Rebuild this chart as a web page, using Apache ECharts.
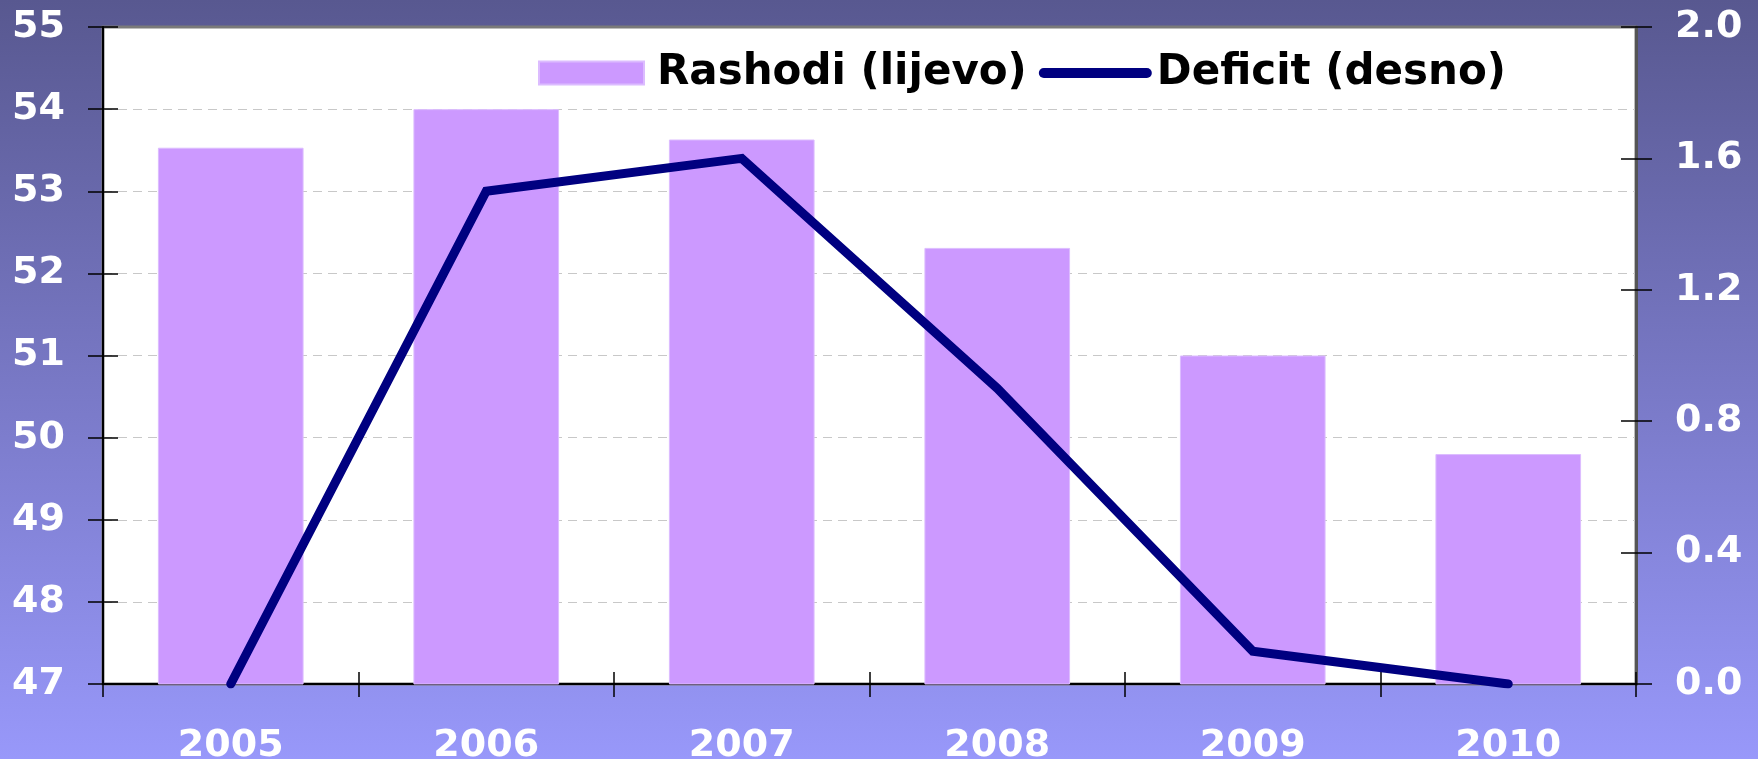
<!DOCTYPE html>
<html>
<head>
<meta charset="utf-8">
<title>Rashodi i deficit</title>
<script src="https://cdn.jsdelivr.net/npm/echarts@6.0.0/dist/echarts.min.js"></script>
<style>
  html, body { margin: 0; padding: 0; }
  #chart { width: 1758px; height: 759px; }
</style>
</head>
<body>
<div id="chart"></div>
<script>
// kategorije (godine)
const years = ['2005', '2006', '2007', '2008', '2009', '2010']
// Rashodi, lijeva os
const rashodi = [53.53, 54.0, 53.63, 52.31, 51.0, 49.8]
// Deficit, desna os
const deficit = [0, 1.5, 1.6, 0.9, 0.1, 0]

const leftMin = 47, leftMax = 55, leftStep = 1
const rightMin = 0, rightMax = 2.0, rightStep = 0.4

const labelFont = 'DejaVu Sans'

// ikone legende (prazni M drže veličinu kutije)
const rectIcon = 'path://M0,0 M113,23 M0,0 L105,0 L105,23 L0,23 Z'
const lineIcon = 'path://M0,0 M113,23 M5,6.5 L108,6.5 A5,5 0 0 1 108,16.5 L5,16.5 A5,5 0 0 1 5,6.5 Z'

const chart = echarts.init(document.getElementById('chart'))

const option = {
  animation: false,
  backgroundColor: {
    type: 'linear', x: 0, y: 0, x2: 0, y2: 1,
    colorStops: [
      { offset: 0, color: '#585890' },
      { offset: 1, color: '#9898fa' }
    ]
  },
  grid: {
    left: 103,
    right: 122,
    top: 27,
    bottom: 75,
    outerBoundsMode: 'none',
    show: true,
    backgroundColor: '#ffffff',
    borderColor: '#7a7a7a',
    borderWidth: 3
  },
  legend: {
    left: 533,
    top: 47,
    itemWidth: 113,
    itemHeight: 23,
    itemGap: 12,
    textStyle: {
      color: '#000',
      fontFamily: labelFont,
      fontWeight: 'bold',
      fontSize: 42,
      lineHeight: 42
    },
    data: [
      { name: 'Rashodi (lijevo)', icon: rectIcon },
      { name: 'Deficit (desno)', icon: lineIcon, itemStyle: { color: '#000080', borderWidth: 0 } }
    ]
  },
  xAxis: [
    {
      type: 'category',
      data: years,
      axisLine: { lineStyle: { color: '#000', width: 2 } },
      axisTick: { show: true, length: 13, lineStyle: { color: '#000', width: 1.5 } },
      axisLabel: {
        color: '#fff',
        fontFamily: labelFont,
        fontWeight: 'bold',
        fontSize: 38,
        margin: 43
      },
      splitLine: { show: false }
    },
    // kratke crtice prema unutra
    {
      type: 'category',
      data: years,
      position: 'bottom',
      axisLine: { show: false },
      axisTick: { show: true, inside: true, length: 12, lineStyle: { color: '#000', width: 1.5 } },
      axisLabel: { show: false },
      splitLine: { show: false }
    }
  ],
  yAxis: [
    {
      type: 'value',
      min: leftMin,
      max: leftMax,
      interval: leftStep,
      position: 'left',
      axisLine: { show: true, lineStyle: { color: '#000', width: 2 } },
      axisTick: { show: true, length: 15, lineStyle: { color: '#000', width: 1.5 } },
      axisLabel: {
        color: '#fff',
        fontFamily: labelFont,
        fontWeight: 'bold',
        fontSize: 38,
        margin: 38
      },
      splitLine: {
        show: true,
        showMinLine: false,
        showMaxLine: false,
        lineStyle: { color: '#c8c8c8', type: [9, 6], width: 1 }
      }
    },
    {
      type: 'value',
      min: rightMin,
      max: rightMax,
      interval: rightStep,
      position: 'right',
      axisLine: { show: true, lineStyle: { color: '#555', width: 3 } },
      axisTick: { show: true, length: 16, lineStyle: { color: '#000', width: 1.5 } },
      axisLabel: {
        color: '#fff',
        fontFamily: labelFont,
        fontWeight: 'bold',
        fontSize: 38,
        margin: 39,
        formatter: v => v.toFixed(1)
      },
      splitLine: { show: false }
    },
    {
      type: 'value',
      min: leftMin,
      max: leftMax,
      interval: leftStep,
      position: 'left',
      axisLine: { show: false },
      axisTick: { show: true, inside: true, length: 15, lineStyle: { color: '#000', width: 1.5 } },
      axisLabel: { show: false },
      splitLine: { show: false }
    },
    {
      type: 'value',
      min: rightMin,
      max: rightMax,
      interval: rightStep,
      position: 'right',
      axisLine: { show: false },
      axisTick: { show: true, inside: true, length: 15, lineStyle: { color: '#000', width: 1.5 } },
      axisLabel: { show: false },
      splitLine: { show: false }
    }
  ],
  series: [
    {
      name: 'Rashodi (lijevo)',
      type: 'bar',
      data: rashodi,
      xAxisIndex: 0,
      yAxisIndex: 0,
      barWidth: '57%',
      itemStyle: {
        color: '#cc99ff',
        borderColor: '#dcbcff',
        borderWidth: 1
      }
    },
    {
      name: 'Deficit (desno)',
      type: 'line',
      data: deficit,
      xAxisIndex: 0,
      yAxisIndex: 1,
      symbol: 'none',
      z: 5,
      lineStyle: {
        color: '#000080',
        width: 9,
        cap: 'round',
        join: 'miter'
      },
      itemStyle: { color: '#000080' }
    }
  ]
}

chart.setOption(option)
</script>
</body>
</html>
